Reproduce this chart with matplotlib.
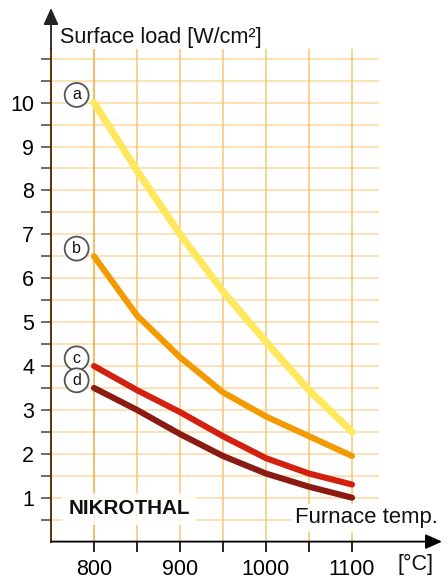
import matplotlib
matplotlib.use("Agg")
import matplotlib.pyplot as plt
import numpy as np

plt.rcParams['font.family'] = ['Liberation Sans', 'DejaVu Sans']

# ---- data ----
temps = [800, 850, 900, 950, 1000, 1050, 1100]
series_labels = ['a', 'b', 'c', 'd']
load_a = [10.0, 8.45, 7.0, 5.7, 4.55, 3.45, 2.5]
load_b = [6.5, 5.15, 4.2, 3.4, 2.85, 2.4, 1.95]
load_c = [4.0, 3.45, 2.95, 2.4, 1.9, 1.55, 1.3]
load_d = [3.5, 3.0, 2.45, 1.95, 1.55, 1.25, 1.0]
series_values = [load_a, load_b, load_c, load_d]
x_tick_labels = ['800', '900', '1000', '1100']
y_tick_labels = ['1', '2', '3', '4', '5', '6', '7', '8', '9', '10']

colors = ['#FFE85E', '#F39A00', '#D3200F', '#8A1B12']
widths = [5.2, 4.4, 4.4, 4.4]

W, H = 448, 581
fig = plt.figure(figsize=(W / 100, H / 100), dpi=100)
ax_l, ax_r, ax_t, ax_b = 51, 379, 49, 541.6
ax = fig.add_axes([ax_l / W, 1 - ax_b / H, (ax_r - ax_l) / W, (ax_b - ax_t) / H])
ax.set_xlim(750, 750 + (ax_r - ax_l) / 0.86)
ax.set_ylim(0, (ax_b - ax_t) / 43.9)

for s in ['top', 'right', 'bottom']:
    ax.spines[s].set_visible(False)
ax.spines['left'].set_color('#5A3308')
ax.spines['left'].set_linewidth(1.4)

# grid
for yv in np.arange(0.5, 11.01, 0.5):
    ax.axhline(yv, color='#FDD8A2', lw=1.1, zorder=1)
for xv in np.arange(800, 1101, 50):
    ax.axvline(xv, color='#F5A83A' if xv == 800 else '#F9C573', lw=1.1, zorder=1.5)

# curves
for vals, c, w in zip(series_values, colors, widths):
    ax.plot(temps, vals, color=c, lw=w, solid_capstyle='round', solid_joinstyle='round', zorder=3)

# circle labels
for lab, vals in zip(series_labels, series_values):
    ax.annotate(lab, xy=(temps[0], vals[0]), xytext=(-12.5, 5.5), textcoords='offset points',
                ha='center', va='center', fontsize=11.5, color='#111111', zorder=5,
                bbox=dict(boxstyle='circle,pad=0.28', fc='white', ec='#555555', lw=1.3))

# ticks
ax.set_yticks(range(1, 11))
ax.set_yticklabels(y_tick_labels)
ax.set_yticks(list(np.arange(0.5, 11.01, 1.0)) + [11.0], minor=True)
ax.set_xticks([800, 900, 1000, 1100])
ax.set_xticklabels(x_tick_labels)
ax.set_xticks([850, 950, 1050], minor=True)
ax.tick_params(axis='y', which='both', length=7.2, width=1.1, color='#444444', direction='out', pad=5)
ax.tick_params(axis='y', which='major', labelsize=15.5)
ax.tick_params(axis='x', which='both', length=7.2, width=1.2, color='black', direction='out', pad=5)
ax.tick_params(axis='x', which='major', labelsize=15.5)

def fx(px):
    return px / W

def fy(py):
    return 1 - py / H

# axis arrows
fig.add_artist(matplotlib.patches.FancyArrowPatch((fx(ax_l), fy(ax_b)), (fx(442), fy(ax_b)),
               transform=fig.transFigure, arrowstyle='-|>,head_length=10,head_width=4.5',
               color='black', lw=1.3, mutation_scale=1, shrinkA=0, shrinkB=0))
fig.add_artist(matplotlib.patches.FancyArrowPatch((fx(ax_l), fy(ax_t)), (fx(ax_l), fy(8)),
               transform=fig.transFigure, arrowstyle='-|>,head_length=10,head_width=4.5',
               color='#222222', lw=1.3, mutation_scale=1, shrinkA=0, shrinkB=0))

# texts
fig.text(fx(60), fy(38), 'Surface load [W/cm²]', fontsize=15.6, ha='left', va='center', color='#111111')
fig.text(fx(129), fy(509), 'NIKROTHAL', fontsize=14.9, ha='center', va='center', fontweight='bold',
         color='#111111', bbox=dict(boxstyle='square,pad=0.3', fc='white', ec='none', alpha=0.85))
fig.text(fx(366), fy(518), 'Furnace temp.', fontsize=15.9, ha='center', va='center', color='#111111',
         bbox=dict(boxstyle='square,pad=0.15', fc='white', ec='none', alpha=0.85))
fig.text(fx(415), fy(564), '[°C]', fontsize=15.5, ha='center', va='center', color='#111111')

fig.savefig('out.png', dpi=100)
